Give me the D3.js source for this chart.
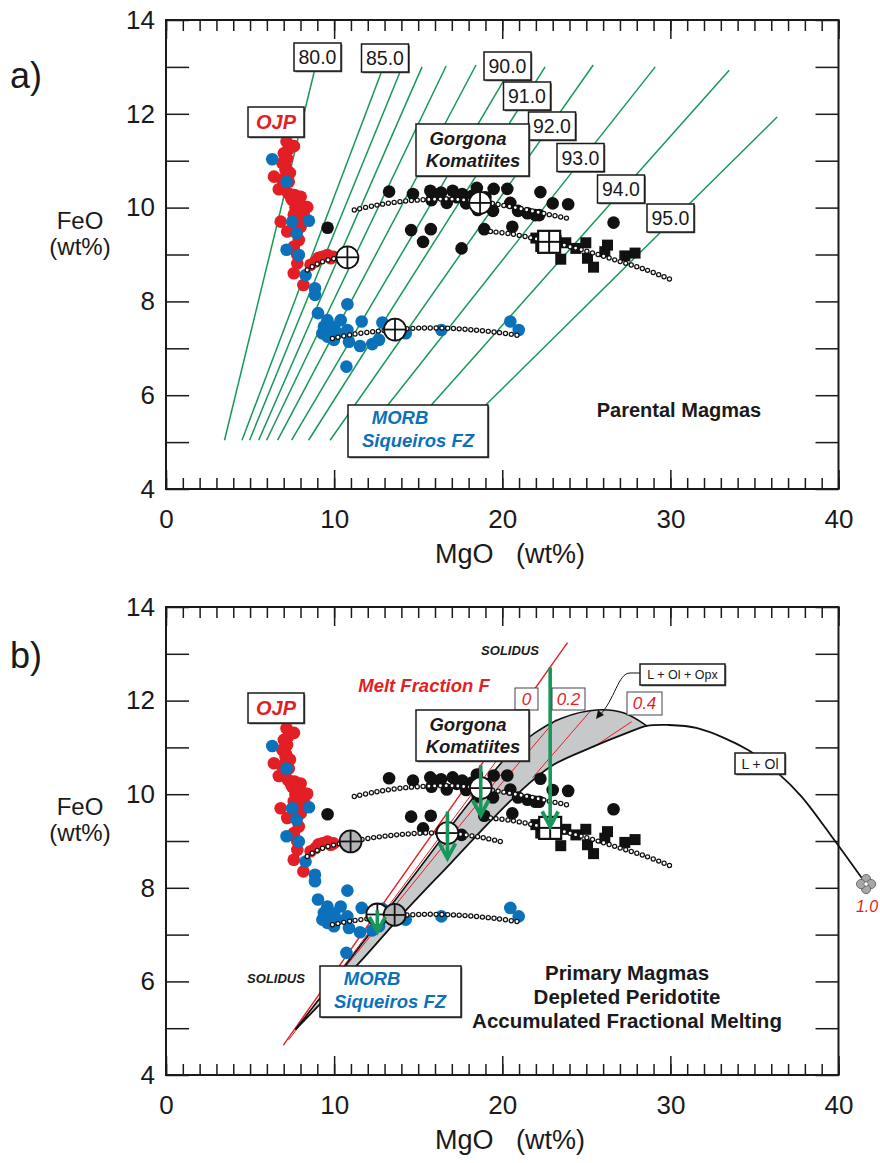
<!DOCTYPE html>
<html>
<head>
<meta charset="utf-8">
<script src="https://cdn.jsdelivr.net/npm/d3@7/dist/d3.min.js"></script>
<style>
  body { margin: 0; background: #fff; }
  text { font-family: "Liberation Sans", Arial, Helvetica, sans-serif; }
</style>
</head>
<body>
<div id="chart"></div>
<script>
// ---- data: [MgO wt%, FeO wt%] ----
const xMajorTicks = [0, 10, 20, 30, 40];
const yLabelTicks = [4, 6, 8, 10, 12, 14];

const ojp = [
  [7.17,11.41],[7.61,11.31],[7.3,11.25],[7.01,11.16],[7.2,11.05],[6.92,10.95],[7.15,10.85],
  [7.11,10.80],[7.37,10.74],[6.42,10.66],[6.9,10.6],[7.3,10.55],[6.71,10.39],[7.0,10.45],
  [7.25,10.31],[7.65,10.27],[8.01,10.23],[7.45,10.2],[7.51,10.16],[7.81,10.10],[8.2,10.02],
  [8.01,9.95],[8.4,10.01],[7.7,10.0],[7.9,9.9],[8.2,9.85],[7.6,9.85],[6.82,9.70],[8.1,9.75],
  [7.21,9.49],[8.01,9.59],[7.7,9.6],[7.9,9.31],[7.61,9.17],[7.8,9.0],[7.81,8.81],[7.6,8.6],
  [8.17,8.35],[8.6,8.78],[8.9,8.85],[9.08,8.93],[9.3,8.95],[9.6,8.99],[9.97,8.95],[9.8,8.92]
];
const morb = [
  [6.32,11.03],[7.17,10.55],[7.51,9.70],[8.5,9.72],[7.77,9.45],[7.17,9.10],[7.9,8.99],
  [8.3,8.56],[8.86,8.28],[8.86,8.14],[10.79,7.94],[9.04,7.75],[9.6,7.60],[10.39,7.60],
  [11.64,7.57],[12.87,7.55],[9.39,7.46],[9.79,7.39],[10.19,7.32],[10.79,7.39],[9.6,7.25],
  [9.99,7.18],[10.88,7.14],[9.3,7.32],[9.5,7.5],[10.0,7.45],[11.54,7.05],[12.27,7.09],
  [12.67,7.18],[10.73,6.61],[14.26,7.32],[16.38,7.39],[20.48,7.57],[20.98,7.39]
];
const gorgonaCircles = [
  [13.27,10.34],[14.69,10.29],[15.72,10.36],[16.36,10.32],[17.05,10.36],[17.62,10.29],
  [18.49,10.42],[19.49,10.40],[20.30,10.40],[15.79,10.16],[16.7,10.10],[17.85,10.09],
  [18.54,9.95],[19.45,9.93],[20.48,10.10],[20.94,9.93],[21.97,9.84],[22.27,10.33],
  [23.0,10.09],[23.92,10.07],[22.2,9.84],[9.61,9.57],[14.58,9.52],[15.75,9.54],[15.29,9.27],
  [17.58,9.13],[18.93,9.54],[20.6,9.59],[26.62,9.68],[16.0,10.28],[17.3,10.22],[18.2,10.25],
  [19.0,10.22],[21.5,9.88]
];
const gorgonaSquares = [
  [22.0,9.35],[22.29,9.17],[23.78,9.25],[23.48,8.90],[24.38,9.13],[24.97,9.25],[25.07,8.92],
  [25.43,8.73],[26.26,9.20],[26.1,9.06],[27.29,8.97],[27.9,9.03],[22.5,9.4],[23.2,9.3]
];

// fractionation model curves
const curveGorgonaHi = [[11.2,9.95],[12.5,10.05],[14,10.13],[15.5,10.17],[17,10.18],[18.6,10.13],[20,10.05],[21.5,9.95],[22.8,9.85],[23.9,9.77]];
const curveGorgonaLo = [[19.3,9.49],[20.5,9.44],[21.8,9.35],[22.8,9.27],[24,9.17],[25.5,9.02],[27,8.85],[28.5,8.68],[30.0,8.47]];
const curveOjpA = [[8.4,8.67],[9.0,8.8],[9.6,8.88],[10.2,8.92],[10.8,8.94]];
const curveOjpB = [[8.4,8.67],[9.0,8.8],[9.6,8.88],[10.2,8.93],[11.0,8.99],[12.5,9.08],[14,9.14],[15.5,9.17],[16.7,9.17],[18,9.12],[19,9.06],[20,8.98]];
const curveMorb = [[9.9,7.21],[11,7.29],[12.5,7.36],[13.6,7.40],[15,7.43],[16.5,7.43],[18,7.40],[19.7,7.34],[21.2,7.26]];

// parental / primary magma estimates
const crossA = [[10.79,8.94],[13.62,7.40],[18.68,10.10]];
const squareA = [22.79,9.27];
const crossB = [[12.57,7.43],[16.74,9.17],[18.72,10.13]];
const crossBGrey = [[10.98,8.99],[13.6,7.42]];
const squareB = [22.85,9.28];

// olivine Fo isopleths (panel a)
const foNames = ["80.0","85.0","86","87","88","89","90.0","91.0","92.0","93.0","94.0","95.0"];
const foTop = [[8.86,12.96],[12.79,12.87],[13.92,12.89],[15.23,13.0],[16.66,13.02],[18.44,13.04],[20.17,12.76],[22.55,13.0],[25.41,13.04],[29.1,13.0],[33.5,12.93],[36.35,11.93]];
const foBottom = [[3.48,5.04],[4.52,5.04],[4.97,5.04],[5.51,5.04],[5.98,5.04],[6.64,5.04],[7.47,5.04],[8.48,5.04],[9.76,5.04],[11.54,5.04],[13.92,5.04],[16.9,5.04]];

// melting model (panel b)
const solidus = [[6.98,4.64],[23.88,13.24]];
const meltLines = [
  [[7.3,4.75],[21.5,11.6]],
  [[8.4,5.3],[20.0,10.45]],
  [[19.3,9.95],[23.2,11.6]],
  [[21.8,10.35],[25.3,11.8]],
  [[25.4,11.0],[27.7,11.55]]
];
const bandUpper = [[7.7,4.97],[10.9,6.45],[14.55,8.17],[18.0,9.8],[20.4,10.85],[21.9,11.3],[23.5,11.62],[25.6,11.8],[27.2,11.74],[28.6,11.46]];
const liqOl = [[7.7,4.97],[11.5,6.4],[14.1,7.45],[17.0,8.55],[19.5,9.5],[21.5,10.2],[23.0,10.62],[25.3,11.0],[27.5,11.32],[28.6,11.46],[29.8,11.48],[31.6,11.41],[34.6,10.95],[36.4,10.45],[37.8,9.95],[39.75,9.02],[41.64,8.08]];
const peridotite = [41.64,8.08];

const arrowMgO = [18.72, 16.74, 22.85, 12.57];
const arrowFrom = [10.62, 9.63, 12.71, 7.52];
const arrowTo = [9.55, 8.63, 9.31, 7.06];

// ---- drawing ----
const RED = "#e31e25", BLUE = "#0b71bb", GREEN = "#17985a", GREY = "#c7c8ca";
const svg = d3.select("#chart").append("svg").attr("width", 880).attr("height", 1163);
const x = d3.scaleLinear().domain([0, 40]).range([166, 838.5]);

function box(g, x0, y0, w, h) {
  g.append("rect").attr("x", x0 + 1.3).attr("y", y0 + 1.3).attr("width", w).attr("height", h).attr("fill", "#555");
  g.append("rect").attr("x", x0).attr("y", y0).attr("width", w).attr("height", h)
    .attr("fill", "#fff").attr("stroke", "#1a1a1a").attr("stroke-width", 1.5);
}
function label(g, tx, ty, str, size, opts = {}) {
  return g.append("text").attr("x", tx).attr("y", ty).attr("text-anchor", opts.anchor || "middle")
    .attr("font-size", size).attr("font-weight", opts.bold ? "bold" : null)
    .attr("font-style", opts.italic ? "italic" : null).attr("fill", opts.color || "#1a1a1a")
    .style("white-space", "pre").text(str);
}

function panel(yRange) {
  const y = d3.scaleLinear().domain([4, 14]).range(yRange);
  const g = svg.append("g");
  const [yb, yt] = yRange;
  const fmt = d => d;
  const axisG = (axis, tx, ty) => {
    const a = g.append("g").attr("transform", `translate(${tx},${ty})`).call(axis);
    a.select(".domain").remove();
    a.selectAll("line").attr("stroke", "#1a1a1a").attr("stroke-width", 1.5);
    a.selectAll("text").attr("font-size", 26).attr("fill", "#1a1a1a")
      .attr("font-family", "'Liberation Sans', Arial, sans-serif");
    return a;
  };
  axisG(d3.axisBottom(x).tickValues(d3.range(0, 41)).tickSizeInner(-11).tickSizeOuter(0).tickFormat(""), 0, yb);
  axisG(d3.axisBottom(x).tickValues(xMajorTicks).tickSizeInner(-19).tickSizeOuter(0).tickPadding(21).tickFormat(fmt), 0, yb);
  axisG(d3.axisTop(x).tickValues(d3.range(0, 41)).tickSizeInner(-11).tickSizeOuter(0).tickFormat(""), 0, yt);
  axisG(d3.axisTop(x).tickValues(xMajorTicks).tickSizeInner(-19).tickSizeOuter(0).tickFormat(""), 0, yt);
  axisG(d3.axisLeft(y).tickValues(d3.range(4, 15)).tickSizeInner(-23).tickSizeOuter(0).tickFormat(""), x(0), 0);
  axisG(d3.axisLeft(y).tickValues(yLabelTicks).tickSizeInner(0).tickSizeOuter(0).tickPadding(11).tickFormat(fmt), x(0), 0);
  axisG(d3.axisRight(y).tickValues(d3.range(4, 15)).tickSizeInner(-23).tickSizeOuter(0).tickFormat(""), x(40), 0);
  g.append("rect").attr("x", x(0)).attr("y", yt).attr("width", x(40) - x(0)).attr("height", yb - yt)
    .attr("fill", "none").attr("stroke", "#1a1a1a").attr("stroke-width", 2);
  // axis titles
  label(g, 80, y(9.55), "FeO", 24);
  label(g, 80, y(9.0), "(wt%)", 24);
  label(g, 510, yb + 74, "MgO   (wt%)", 27);
  return { g, y };
}

function drawData(g, y, ojpCurve) {
  const pts = (data, color) => g.append("g").selectAll("circle").data(data).join("circle")
    .attr("cx", d => x(d[0])).attr("cy", d => y(d[1])).attr("r", 6.3).attr("fill", color);
  pts(ojp, RED);
  pts(morb, BLUE);
  pts(gorgonaCircles, "#111");
  g.append("g").selectAll("rect").data(gorgonaSquares).join("rect")
    .attr("x", d => x(d[0]) - 5.5).attr("y", d => y(d[1]) - 5.5).attr("width", 11).attr("height", 11).attr("fill", "#111");
  const line = d3.line().x(d => x(d[0])).y(d => y(d[1])).curve(d3.curveCatmullRom);
  [curveGorgonaHi, curveGorgonaLo, ojpCurve, curveMorb].forEach(c => {
    g.append("path").attr("d", line(c)).attr("fill", "none").attr("stroke", "#111")
      .attr("stroke-width", 5.4).attr("stroke-linecap", "round").attr("stroke-dasharray", "0 5.8");
    g.append("path").attr("d", line(c)).attr("fill", "none").attr("stroke", "#fff")
      .attr("stroke-width", 2.9).attr("stroke-linecap", "round").attr("stroke-dasharray", "0 5.8");
  });
}

function cross(g, cx, cy, fill) {
  const r = 11;
  g.append("circle").attr("cx", cx).attr("cy", cy).attr("r", r).attr("fill", fill)
    .attr("stroke", "#111").attr("stroke-width", 1.8);
  g.append("line").attr("x1", cx - r).attr("x2", cx + r).attr("y1", cy).attr("y2", cy).attr("stroke", "#111").attr("stroke-width", 1.8);
  g.append("line").attr("x1", cx).attr("x2", cx).attr("y1", cy - r).attr("y2", cy + r).attr("stroke", "#111").attr("stroke-width", 1.8);
}
function squareCross(g, cx, cy) {
  const h = 11;
  g.append("rect").attr("x", cx - h).attr("y", cy - h).attr("width", 2 * h).attr("height", 2 * h)
    .attr("fill", "#fff").attr("stroke", "#111").attr("stroke-width", 2.2);
  g.append("line").attr("x1", cx - h).attr("x2", cx + h).attr("y1", cy).attr("y2", cy).attr("stroke", "#111").attr("stroke-width", 2);
  g.append("line").attr("x1", cx).attr("x2", cx).attr("y1", cy - h).attr("y2", cy + h).attr("stroke", "#111").attr("stroke-width", 2);
}

// ================= panel a =================
{
  const { g, y } = panel([489, 20]);
  const gl = g.append("g");
  foTop.forEach((t, i) => {
    gl.append("line").attr("x1", x(foBottom[i][0])).attr("y1", y(foBottom[i][1]))
      .attr("x2", x(t[0])).attr("y2", y(t[1])).attr("stroke", GREEN).attr("stroke-width", 1.5);
  });
  drawData(g, y, curveOjpA);
  crossA.forEach(d => cross(g, x(d[0]), y(d[1]), "#fff"));
  squareCross(g, x(squareA[0]), y(squareA[1]));

  // Fo label boxes
  const foBoxes = [[317.5,57],[385,58],[507.5,66],[527,96],[552,126],[580.5,157.5],[621,189],[670.5,218]];
  const foShown = foNames.filter(n => n.includes("."));
  foBoxes.forEach((p, i) => {
    box(g, p[0] - 23.5, p[1] - 14, 47, 28);
    label(g, p[0], p[1] + 7, foShown[i], 19.5);
  });

  box(g, 248, 107, 56, 30);
  label(g, 276, 129, "OJP", 20, { bold: true, italic: true, color: RED });
  box(g, 416, 124, 113, 52);
  label(g, 468, 145, "Gorgona", 18.5, { bold: true, italic: true });
  label(g, 473, 167, "Komatiites", 18.5, { bold: true, italic: true });
  box(g, 348, 405, 140, 52);
  label(g, 400, 424, "MORB", 18.5, { bold: true, italic: true, color: BLUE });
  label(g, 418, 447, "Siqueiros FZ", 18.5, { bold: true, italic: true, color: BLUE });
  label(g, 679, 417, "Parental Magmas", 20, { bold: true });
  label(g, 10, 88, "a)", 36, { anchor: "start" });
}

// ================= panel b =================
{
  const { g, y } = panel([1075, 607]);
  const line = d3.line().x(d => x(d[0])).y(d => y(d[1])).curve(d3.curveCatmullRom);
  const joinIdx = liqOl.findIndex(d => d[0] >= bandUpper[bandUpper.length - 1][0]);
  const lower = liqOl.slice(0, joinIdx + 1).reverse();
  const dBand = line(bandUpper) + "L" + line(lower).slice(1) + "Z";
  g.append("path").attr("d", dBand).attr("fill", GREY).attr("stroke", "none");

  meltLines.forEach(l => {
    g.append("line").attr("x1", x(l[0][0])).attr("y1", y(l[0][1])).attr("x2", x(l[1][0])).attr("y2", y(l[1][1]))
      .attr("stroke", RED).attr("stroke-width", 1);
  });
  g.append("line").attr("x1", x(solidus[0][0])).attr("y1", y(solidus[0][1]))
    .attr("x2", x(solidus[1][0])).attr("y2", y(solidus[1][1])).attr("stroke", RED).attr("stroke-width", 1.4);
  g.append("path").attr("d", line(bandUpper)).attr("fill", "none").attr("stroke", "#111").attr("stroke-width", 1.6);
  g.append("path").attr("d", line(liqOl)).attr("fill", "none").attr("stroke", "#111").attr("stroke-width", 1.8);

  drawData(g, y, curveOjpB);
  crossB.forEach(d => cross(g, x(d[0]), y(d[1]), "#fff"));
  crossBGrey.forEach(d => cross(g, x(d[0]), y(d[1]), "#b3b4b6"));
  squareCross(g, x(squareB[0]), y(squareB[1]));

  // olivine-addition arrows
  arrowMgO.forEach((m, i) => {
    const ax = x(m), y0 = y(arrowFrom[i]), y1 = y(arrowTo[i]);
    g.append("line").attr("x1", ax).attr("x2", ax).attr("y1", y0).attr("y2", y1 - 3)
      .attr("stroke", GREEN).attr("stroke-width", 3.6);
    g.append("path").attr("d", `M${ax - 8},${y1 - 15}L${ax},${y1}L${ax + 8},${y1 - 15}`)
      .attr("fill", "none").attr("stroke", GREEN).attr("stroke-width", 3.8).attr("stroke-linejoin", "miter");
  });

  // peridotite source
  const px = x(peridotite[0]), py = y(peridotite[1]);
  [[0, -5], [5, 0], [0, 5], [-5, 0]].forEach(o => g.append("circle").attr("cx", px + o[0]).attr("cy", py + o[1])
    .attr("r", 4.6).attr("fill", "#a7a8aa").attr("stroke", "#555").attr("stroke-width", 0.8));
  g.append("circle").attr("cx", px).attr("cy", py).attr("r", 2.2).attr("fill", "#fff").attr("stroke", "#555").attr("stroke-width", 0.7);
  label(g, px + 1, py + 28, "1.0", 16, { italic: true, color: RED });

  // F labels
  [[515, 688, 23, 22, "0"], [552, 688, 33, 22, "0.2"], [627, 692, 35, 23, "0.4"]].forEach(b => {
    g.append("rect").attr("x", b[0]).attr("y", b[1]).attr("width", b[2]).attr("height", b[3])
      .attr("fill", "#fff").attr("stroke", "#444").attr("stroke-width", 1);
    label(g, b[0] + b[2] / 2, b[1] + 17, b[4], 17, { italic: true, color: RED });
  });
  label(g, 424, 692, "Melt Fraction F", 18.5, { bold: true, italic: true, color: RED });
  label(g, 510, 655, "SOLIDUS", 13, { bold: true, italic: true });
  label(g, 276, 983, "SOLIDUS", 13, { bold: true, italic: true });

  // field labels
  g.append("path").attr("d", "M640,673 L630,673 C618,673 615,700 599,716").attr("fill", "none")
    .attr("stroke", "#111").attr("stroke-width", 1);
  g.append("path").attr("d", "M596,719 L598,710 L604,715 Z").attr("fill", "#111");
  box(g, 640, 664, 85, 21);
  label(g, 682.5, 679, "L + Ol + Opx", 12.5);
  box(g, 735, 753, 50, 21);
  label(g, 760, 768.5, "L + Ol", 14);

  box(g, 248, 693, 56, 30);
  label(g, 276, 715, "OJP", 20, { bold: true, italic: true, color: RED });
  box(g, 416, 710, 113, 51);
  label(g, 468, 731, "Gorgona", 18.5, { bold: true, italic: true });
  label(g, 473, 753, "Komatiites", 18.5, { bold: true, italic: true });
  box(g, 320, 966, 141, 51);
  label(g, 372, 985, "MORB", 18.5, { bold: true, italic: true, color: BLUE });
  label(g, 390, 1008, "Siqueiros FZ", 18.5, { bold: true, italic: true, color: BLUE });

  label(g, 627, 980, "Primary Magmas", 20.5, { bold: true });
  label(g, 627, 1004, "Depleted Peridotite", 20.5, { bold: true });
  label(g, 627, 1028, "Accumulated Fractional Melting", 20.5, { bold: true });
  label(g, 10, 668, "b)", 36, { anchor: "start" });
}
</script>
</body>
</html>
